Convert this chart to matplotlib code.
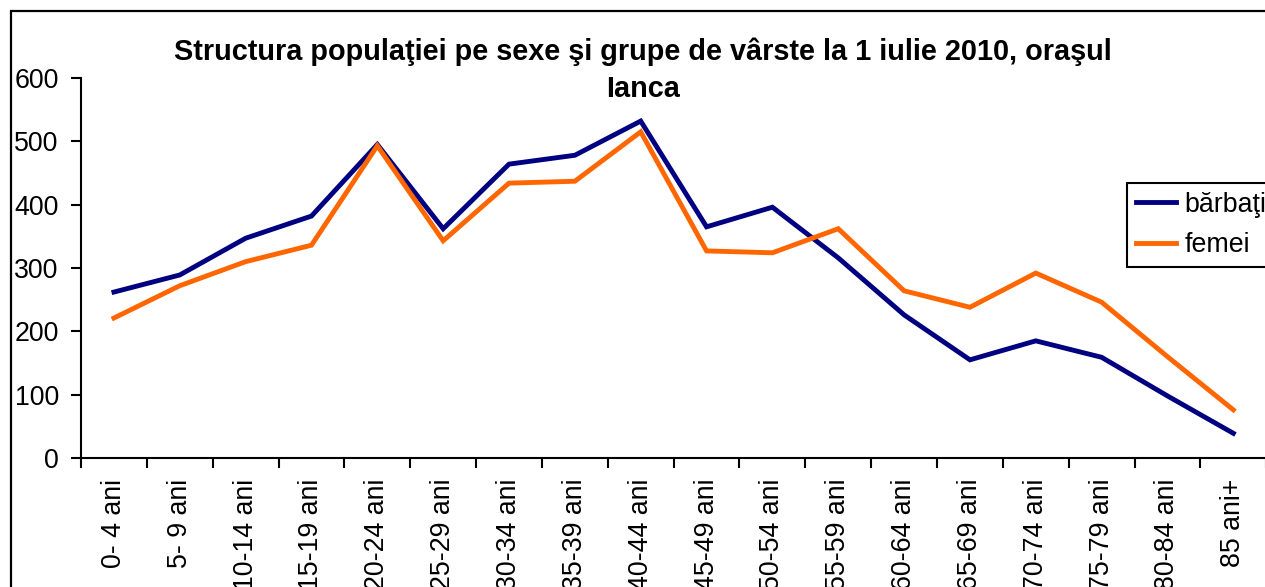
import matplotlib
matplotlib.use("Agg")
import matplotlib.pyplot as plt
from matplotlib.patches import Rectangle

categories = ["0- 4 ani", "5- 9 ani", "10-14 ani", "15-19 ani", "20-24 ani", "25-29 ani",
              "30-34 ani", "35-39 ani", "40-44 ani", "45-49 ani", "50-54 ani", "55-59 ani",
              "60-64 ani", "65-69 ani", "70-74 ani", "75-79 ani", "80-84 ani", "85 ani+"]
barbati = [262, 289, 347, 382, 495, 362, 464, 478, 532, 365, 396, 316, 226, 155, 185, 159, 98, 39]
femei = [221, 272, 310, 336, 493, 343, 434, 437, 515, 327, 324, 362, 264, 238, 292, 246, 160, 76]
yticks = [0, 100, 200, 300, 400, 500, 600]
title = "Structura populaţiei pe sexe şi grupe de vârste la 1 iulie 2010, oraşul\nIanca"

plt.rcParams['font.family'] = ['Liberation Sans', 'DejaVu Sans']

W, H = 1265, 587
FS = 19.3
fig = plt.figure(figsize=(W / 100, H / 100), dpi=100)
fig.patch.set_facecolor('white')

# outer chart frame (cropped at right and bottom, as in the reference)
fig.patches.append(Rectangle((11 / W, -0.1), 1.2, 1 - 11 / H + 0.1, transform=fig.transFigure,
                             fill=False, edgecolor='black', linewidth=1.6, zorder=0))

ax = fig.add_axes([81 / W, 1 - 458 / H, (W - 81) / W + 0.001, (458 - 78) / H])
x = [i + 0.5 for i in range(len(categories))]
ax.plot(x, barbati, color='#000080', linewidth=3.5, label='bărbaţi', solid_joinstyle='miter')
ax.plot(x, femei, color='#FF6600', linewidth=3.5, label='femei', solid_joinstyle='miter')

ax.set_xlim(0, len(categories))
ax.set_ylim(0, 600)
ax.set_yticks(yticks)
ax.set_yticklabels([str(v) for v in yticks])
ax.set_xticks(range(len(categories) + 1))
ax.set_xticklabels([])
ax.set_xticks(x, minor=True)
ax.set_xticklabels(categories, minor=True, rotation=90, ha='center', va='top')
ax.tick_params(axis='x', which='minor', length=0, pad=15, labelsize=FS)
ax.tick_params(axis='x', which='major', length=7, width=1.5, direction='out')
ax.tick_params(axis='y', length=7, width=1.5, direction='out', pad=9, labelsize=FS)
for s in ['top', 'right']:
    ax.spines[s].set_visible(False)
for s in ['left', 'bottom']:
    ax.spines[s].set_linewidth(1.5)
ax.patch.set_alpha(0)

fig.text(0.508, 1 - 37 / H, title, ha='center', va='top', fontsize=20.8, fontweight='bold',
         linespacing=1.43)

leg = fig.legend(loc='upper left', bbox_to_anchor=(1127 / W, 1 - 183 / H), borderaxespad=0,
                 fancybox=False, edgecolor='black', framealpha=1, fontsize=FS,
                 handlelength=1.5, handletextpad=0.33, borderpad=0.32, labelspacing=0.55)
leg.get_frame().set_linewidth(1.5)

fig.savefig('out.png', dpi=100)
